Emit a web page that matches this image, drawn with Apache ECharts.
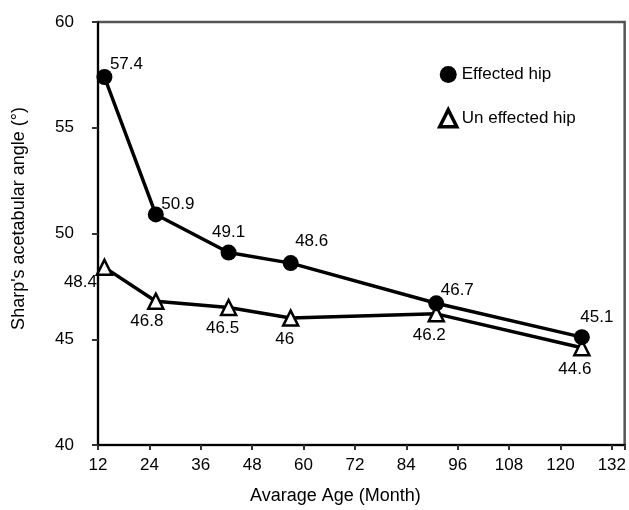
<!DOCTYPE html>
<html>
<head>
<meta charset="utf-8">
<script src="https://cdn.jsdelivr.net/npm/echarts@6/dist/echarts.min.js"></script>
<style>
  html, body { margin: 0; padding: 0; background: #fff; }
  #chart { width: 629px; height: 510px; }
</style>
</head>
<body>
<div id="chart"></div>
<script>
// 数据
var ages = [13.5, 25.5, 42.5, 57, 91, 125];
var effectedHip = [57.4, 50.9, 49.1, 48.6, 46.7, 45.1];
var unEffectedHip = [48.4, 46.8, 46.5, 46, 46.2, 44.6];
var seriesNames = ['Effected hip', 'Un effected hip'];

// 标签位置 (相对于点的偏移)
var effOffsets = [[22, -13], [22, -10], [0, -20], [21, -22], [21, -13], [15, -20]];
var unOffsets = [[-24, 15], [-9, 20], [-6, 21], [-6, 21], [-7, 21], [-7, 22]];

var FONT = 'Liberation Sans, Arial, sans-serif';

function buildData(vals, offsets) {
	return vals.map(function(v, i) {
		return {
			value: [ages[i], v],
			label: { offset: offsets[i] }
		};
	});
}

var myChart = echarts.init(document.getElementById('chart'));
var option = {
	backgroundColor: '#fff',
	animation: false,
	textStyle: { fontFamily: FONT },
	grid: {
		left: 98,
		right: 4,
		top: 22,
		bottom: 61,
		show: true,
		borderColor: '#555',
		borderWidth: 2.5
	},
	legend: {
		orient: 'vertical',
		left: 433,
		top: 61,
		itemWidth: 17,
		itemHeight: 17,
		itemGap: 25,
		textStyle: { fontSize: 17, color: '#000', fontFamily: FONT },
		data: [
			{ name: seriesNames[0], icon: 'circle', itemStyle: { color: '#000', borderWidth: 0 } },
			{ name: seriesNames[1], icon: 'triangle', itemStyle: { color: '#fff', borderColor: '#000', borderWidth: 3.5 } }
		]
	},
	xAxis: {
		type: 'value',
		min: 12,
		max: 135,
		interval: 12,
		name: 'Avarage Age (Month)',
		nameLocation: 'middle',
		nameGap: 42,
		nameTextStyle: { fontSize: 18, color: '#000', fontFamily: FONT, padding: [0, 52, 0, 0] },
		axisLine: { onZero: false, lineStyle: { color: '#000', width: 2 } },
		axisTick: { length: 5, lineStyle: { color: '#333', width: 2 } },
		axisLabel: {
			margin: 12,
			fontSize: 17,
			color: '#000',
			fontFamily: FONT,
			formatter: function(v) { return v % 12 === 0 ? v : ''; }
		},
		splitLine: { show: false }
	},
	yAxis: {
		type: 'value',
		min: 40,
		max: 60,
		interval: 5,
		name: "Sharp's acetabular angle (\u00b0)",
		nameLocation: 'middle',
		nameGap: 70,
		nameTextStyle: { fontSize: 18, color: '#000', fontFamily: FONT, padding: [0, 0, 0, 30] },
		axisLine: { onZero: false, lineStyle: { color: '#000', width: 2 } },
		axisTick: { length: 6, lineStyle: { color: '#333', width: 2 } },
		axisLabel: { margin: 24, fontSize: 17, color: '#000', fontFamily: FONT },
		splitLine: { show: false }
	},
	series: [{
		name: seriesNames[0],
		type: 'line',
		symbol: 'circle',
		symbolSize: 16,
		lineStyle: { color: '#000', width: 3.5 },
		itemStyle: { color: '#000' },
		label: {
			show: true,
			position: 'inside',
			color: '#000',
			fontSize: 17,
			fontFamily: FONT
		},
		z: 3,
		data: buildData(effectedHip, effOffsets)
	}, {
		name: seriesNames[1],
		type: 'line',
		symbol: 'triangle',
		symbolSize: 15,
		lineStyle: { color: '#000', width: 3.5 },
		itemStyle: { color: '#fff', borderColor: '#000', borderWidth: 2.5 },
		label: {
			show: true,
			position: 'inside',
			color: '#000',
			fontSize: 17,
			fontFamily: FONT
		},
		z: 2,
		data: buildData(unEffectedHip, unOffsets)
	}]
};
myChart.setOption(option);
</script>
</body>
</html>
